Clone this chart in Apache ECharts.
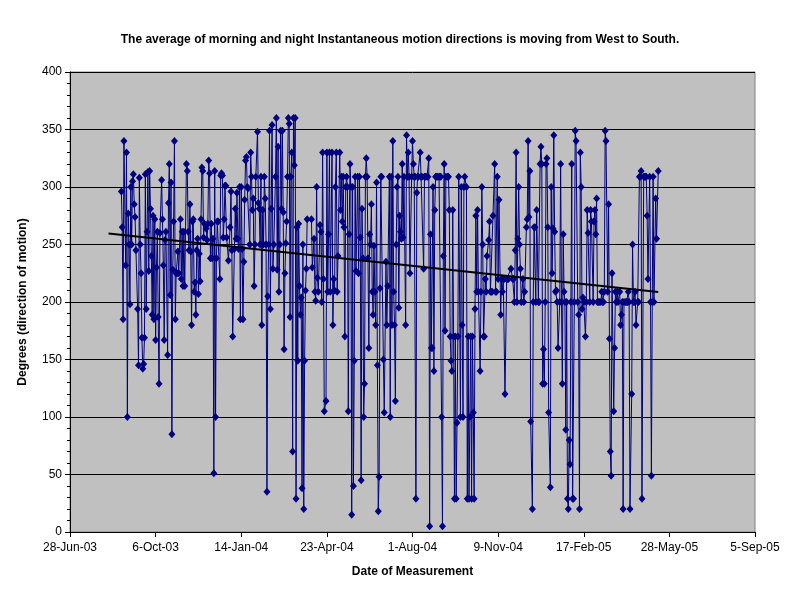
<!DOCTYPE html>
<html><head><meta charset="utf-8">
<script src="https://cdn.jsdelivr.net/npm/echarts@6/dist/echarts.min.js"></script>
<style>html,body{margin:0;padding:0;background:#fff}#chart{width:800px;height:600px}</style>
</head><body><div id="chart"></div>
<script>
// x values are Excel serial dates (37800 = 28-Jun-03)
const xMin = 37800, xMax = 38600, xStep = 100;
const yMin = 0, yMax = 400, yStep = 50;

const serialDates = [
37860,37861,37862,37863,37865,37866,37867,37868,37869,37870,
37871,37872,37873,37874,37875,37876,37877,37879,37880,37881,
37882,37883,37884,37885,37886,37887,37888,37889,37890,37891,
37892,37893,37894,37895,37896,37897,37898,37899,37900,37901,
37902,37903,37904,37905,37907,37908,37909,37910,37911,37912,
37914,37915,37916,37917,37918,37919,37920,
37921,37922,37923,37924,37925,37926,37927,37929,37930,37931,
37932,37933,37934,37936,37937,37938,37939,37940,37941,37942,
37943,37944,37945,37946,37947,37948,37949,37950,37951,37952,
37953,37954,37955,37956,37957,37959,37960,37961,37962,37963,
37964,37965,37966,37967,37968,37969,37970,37971,37972,37973,
37975,37976,37977,37978,37979,37980,37981,37982,37983,37985,
37987,37988,37989,37990,37992,37993,37994,37995,37996,37997,
37998,37999,
38000,38001,38002,38003,38004,38005,38006,38007,38008,38010,
38011,38012,38013,38014,38015,38016,38017,38019,38020,38021,
38022,38023,38024,38025,38026,38027,38028,38029,38030,38031,
38032,38033,38034,38035,38036,38037,38038,38040,38041,38042,
38043,38044,38045,38046,38047,38048,38049,38050,38051,38052,
38053,38054,38055,38056,38057,38058,38059,38060,38061,38062,
38063,38064,38065,38066,38067,38068,38069,38070,38071,38072,
38073,38074,38075,38076,38077,
38082,38083,38085,38086,38087,38088,38089,38090,38092,38093,
38094,38095,38096,38097,38099,38100,38101,38102,38103,38104,
38106,38107,38108,38109,38110,38111,38112,38113,38115,38116,
38117,38118,38119,38120,38121,38122,38123,38124,38125,38126,
38127,38128,38129,38130,38131,38132,38133,38134,38136,38137,
38138,38139,38140,38141,38142,38143,38144,38145,38146,38147,
38148,38149,38150,38151,38152,38153,38154,38155,38156,38157,
38158,38159,38160,38161,38162,38163,
38164,38166,38167,38169,38170,38171,38173,38174,38175,38176,
38177,38178,38179,38180,38181,38182,38183,38184,38185,38186,
38187,38188,38189,38190,38192,38193,38194,38195,38196,38197,
38199,38200,38201,38202,38203,38204,38205,38206,38207,38209,
38210,38211,38213,38214,38215,38217,38218,38219,38220,38221,
38222,38223,38224,38225,38226,38227,38228,38229,38231,38232,
38233,38234,38235,38236,38237,38238,38239,38241,38242,38243,
38244,38245,38246,38247,
38248,38249,38250,38251,38252,38253,38254,38256,38257,38258,
38259,38260,38261,38263,38264,38265,38266,38267,38268,38269,
38270,38271,38272,38273,38274,38275,38276,38277,38279,38280,
38281,38282,38283,38284,38285,38286,38287,38289,38290,38291,
38292,38293,38294,38296,38297,38298,38299,38300,38301,38303,
38304,38305,38306,38307,38308,38310,38311,38312,38315,38317,
38318,38319,38320,38321,38322,38323,38324,38325,38326,38327,
38329,38330,38331,38333,38334,38335,38336,38337,38338,38340,
38341,38342,38343,38344,38345,38347,38348,38349,38350,38351,
38352,38353,38354,38355,38356,38357,38358,38359,38361,38362,
38363,38364,38365,38366,38367,38368,38369,38370,38372,38373,
38374,38375,38376,38377,38378,38379,38380,38381,38382,38383,
38384,38385,38386,38387,38388,38389,38390,38391,38393,38394,
38395,38396,38397,38398,38399,38400,38402,38403,38404,38405,
38407,38408,38409,
38411,38412,38413,38414,38415,38416,38417,38418,38420,38421,
38422,38423,38424,38425,38426,38428,38429,38430,38431,38432,
38433,38435,38436,38437,38438,38439,38440,38442,38443,38444,
38445,38446,38447,38449,38450,38451,38452,38453,38454,38456,
38457,38458,38459,38460,38461,38463,38464,38465,38466,38467,
38468,38470,38471,38472,38473,38474,38475,38477,38478,38479,
38480,38481,38482,38484,38485,38487
];

const degrees = [
296,265,185,340,232,330,100,277,250,198,
300,250,305,311,285,274,245,194,145,308,
250,225,169,142,146,169,311,194,261,313,
227,314,281,240,189,275,185,272,167,230,
261,187,129,260,306,272,232,167,254,261,
154,286,320,206,304,85,228,
270,340,185,225,225,244,225,272,220,261,
214,261,214,320,314,261,245,285,244,180,
270,272,209,217,189,245,255,207,242,218,
272,317,314,256,268,264,254,268,323,312,
238,268,238,255,51,314,100,238,270,270,
220,310,312,310,256,272,301,301,256,236,
265,296,245,170,246,281,255,295,255,246,
300,185,
300,246,185,235,289,323,326,300,299,250,
330,309,280,290,214,250,309,348,286,281,
250,309,180,280,250,309,290,250,35,205,
250,349,194,281,354,229,250,309,360,228,
335,209,250,349,281,349,278,159,225,251,
270,309,360,355,187,309,330,70,360,319,
360,29,265,149,268,214,189,204,38,250,
20,149,210,229,272,
272,230,255,209,201,300,221,209,267,261,
200,330,220,105,114,330,209,259,330,209,
330,180,220,210,300,330,209,240,330,280,
309,270,309,265,170,300,309,300,105,259,
320,300,15,300,40,149,309,227,309,225,
309,256,45,281,238,100,129,309,325,309,
238,160,259,250,285,209,189,249,209,180,
304,145,18,48,212,309,
309,150,104,235,180,214,309,100,309,180,
340,209,180,114,250,300,309,195,275,261,
255,320,256,309,180,345,309,330,309,225,
309,340,320,309,309,29,295,309,309,330,
309,309,229,309,309,309,309,325,5,259,
160,160,300,140,280,309,309,309,309,309,
309,100,5,240,320,175,309,309,309,280,
170,149,140,280,
170,29,170,29,95,170,309,100,300,180,
100,300,309,300,29,170,29,100,170,29,
170,104,29,194,275,209,280,209,140,209,
300,250,170,170,220,209,240,254,270,209,
209,209,275,320,209,209,309,220,289,189,
220,209,220,220,120,220,220,220,229,220,
220,200,245,330,200,255,300,250,229,200,
220,200,209,265,272,340,274,314,96,20,
200,265,265,200,280,200,200,320,335,320,
129,159,129,200,320,325,265,104,39,300,
225,264,345,261,209,210,200,160,200,320,
200,129,259,209,200,89,200,29,20,80,
59,200,320,29,29,200,349,340,200,189,
20,330,300,194,204,200,170,200,280,260,
200,280,270,
200,270,280,259,290,200,200,200,200,209,
200,200,209,349,340,209,285,168,70,49,
225,105,160,209,200,209,200,209,180,189,
200,20,200,200,200,200,209,200,20,120,
250,200,200,209,180,200,200,309,309,314,
29,309,309,309,309,275,220,309,200,49,
200,309,200,290,255,314
];

// linear trend line end points
const trendDates = [37845, 38487];
const trendValues = [259.5, 208.7];

const monthNames = ['Jan','Feb','Mar','Apr','May','Jun','Jul','Aug','Sep','Oct','Nov','Dec'];
function serialToLabel(s) {
  const d = new Date(Date.UTC(1899, 11, 30) + Math.round(s) * 86400000);
  return d.getUTCDate() + '-' + monthNames[d.getUTCMonth()] + '-' + String(d.getUTCFullYear() % 100).padStart(2, '0');
}

const font = "'Liberation Sans', Arial, sans-serif";
const chart = echarts.init(document.getElementById('chart'), null, {renderer: 'canvas'});
chart.setOption({
  animation: false,
  backgroundColor: '#ffffff',
  title: {
    text: 'The average of morning and night Instantaneous motion directions is moving from West to South.',
    left: 'center', top: 29,
    textStyle: {fontFamily: font, fontSize: 12, fontWeight: 'bold', color: '#000'}
  },
  grid: {left: 70, right: 45, top: 72, bottom: 68, show: true, backgroundColor: '#c0c0c0', borderColor: '#808080', borderWidth: 1},
  xAxis: {
    type: 'value', min: xMin, max: xMax, interval: xStep,
    name: 'Date of Measurement', nameLocation: 'middle', nameGap: 34,
    nameTextStyle: {fontFamily: font, fontSize: 12, fontWeight: 'bold', color: '#000'},
    axisLine: {show: true, lineStyle: {color: '#000', width: 1}},
    axisTick: {show: true, length: 5, lineStyle: {color: '#000'}},
    axisLabel: {formatter: serialToLabel, margin: 10, color: '#000', fontFamily: font, fontSize: 12},
    splitLine: {show: false}
  },
  yAxis: {
    type: 'value', min: yMin, max: yMax, interval: yStep,
    name: 'Degrees (direction of motion)', nameLocation: 'middle', nameGap: 41,
    nameTextStyle: {fontFamily: font, fontSize: 12, fontWeight: 'bold', color: '#000'},
    axisLine: {show: true, lineStyle: {color: '#000', width: 1}},
    axisTick: {show: true, length: 5, lineStyle: {color: '#000'}},
    minorTick: {show: true, splitNumber: 5, length: 3, lineStyle: {color: '#000'}},
    axisLabel: {margin: 8, color: '#000', fontFamily: font, fontSize: 12},
    splitLine: {show: true, lineStyle: {color: '#000', width: 1}}
  },
  series: [
    {
      type: 'line',
      data: serialDates.map((d, i) => [d, degrees[i]]),
      symbol: 'diamond', symbolSize: [7, 8], showSymbol: true,
      lineStyle: {color: '#000080', width: 1},
      itemStyle: {color: '#000080'},
      emphasis: {disabled: true}, silent: true
    },
    {
      type: 'line',
      data: trendDates.map((d, i) => [d, trendValues[i]]),
      symbol: 'none',
      lineStyle: {color: '#000', width: 2},
      z: 5, silent: true
    }
  ]
});
</script>
</body></html>
